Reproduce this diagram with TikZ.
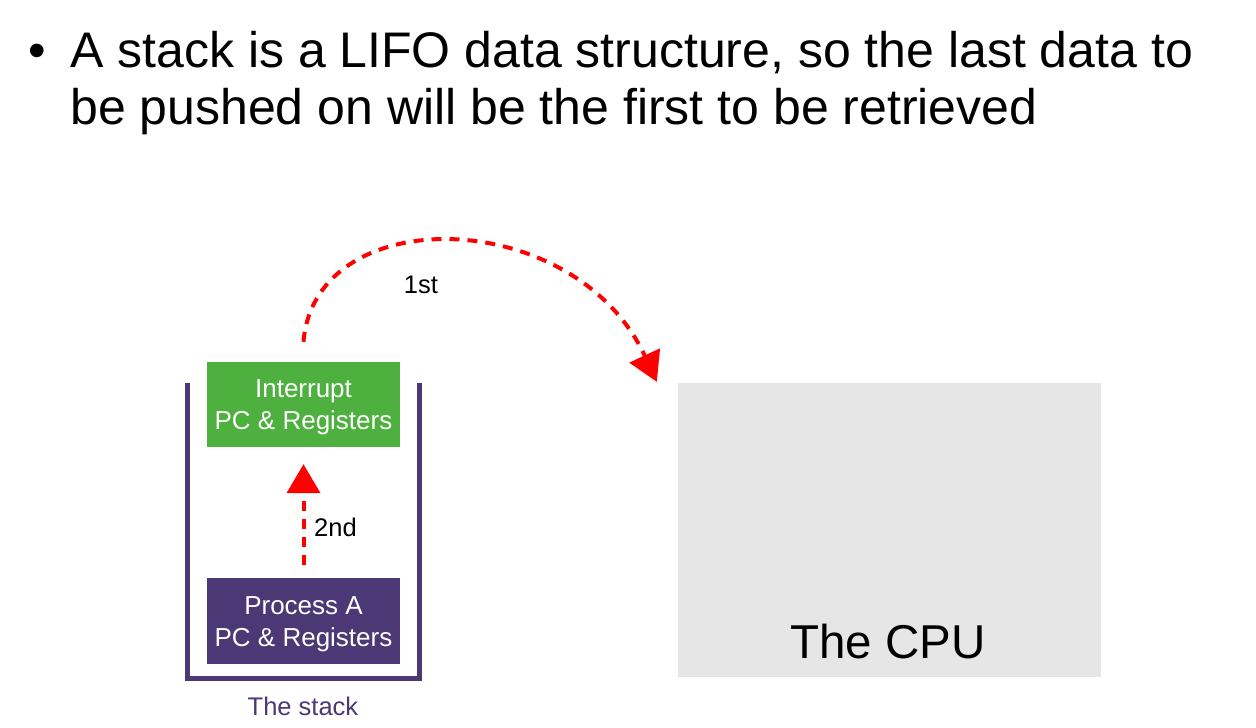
\documentclass[tikz,border=0pt]{standalone}
\usepackage{fontspec}
\setmainfont{Liberation Sans}
\usetikzlibrary{arrows.meta}
\definecolor{stkpurple}{HTML}{4B3874}
\definecolor{stkgreen}{HTML}{4DB03F}
\definecolor{cpugray}{HTML}{E6E6E6}
\definecolor{arrred}{HTML}{FF0000}
\tikzset{
  stackbox/.style={draw=none, minimum width=193pt, minimum height=86pt, inner sep=0pt},
  boxtext/.style={inner sep=0pt, align=center, text=white, font=\fontsize{26}{32}\selectfont},
  reddash/.style={draw=arrred, line width=4pt, dash pattern=on 10pt off 8pt, -{Triangle[length=29pt,width=33pt]}},
  titletext/.style={anchor=base west, inner sep=0pt, font=\fontsize{50}{55}\selectfont},
  smalltext/.style={inner sep=0pt, font=\fontsize{25.5}{28}\selectfont}
}
\begin{document}
\begin{tikzpicture}[x=1pt,y=-1pt]
\useasboundingbox (0,0) rectangle (1256,728);
% title
\node[titletext] (bul) at (28,67) {•};
\node[titletext] (t1) at (70,67) {A stack is a LIFO data structure, so the last data to};
\node[titletext] (t2) at (70,124) {be pushed on will be the first to be retrieved};
% stack container
\coordinate (stl) at (187,383);
\coordinate (str) at (419,383);
\draw[stkpurple, line width=5pt] (stl) |- (303,678) -| (str);
% boxes
\node[stackbox, fill=stkgreen, minimum height=85pt] (intr) at (303.5,404.5) {};
\node[boxtext] (intrtxt) at ([yshift=-2.5pt]intr.center) {Interrupt\\PC \& Registers};
\node[stackbox, fill=stkpurple] (proca) at (303.5,621) {};
\node[boxtext] (procatxt) at ([yshift=-3pt]proca.center) {Process A\\PC \& Registers};
\node[smalltext, text=stkpurple] (stk) at (303,706) {The stack};
% CPU
\node[fill=cpugray, minimum width=423pt, minimum height=294pt, inner sep=0pt] (cpu) at (889.5,530) {};
\node[inner sep=0pt, anchor=base, font=\fontsize{47.5}{50}\selectfont] (cpulbl) at (888,658) {The CPU};
% arrows
\coordinate (c1s) at ([yshift=20pt]intr.north);
\coordinate (c1e) at ([xshift=-21pt,yshift=1pt]cpu.north west);
\draw[reddash] (c1s) .. controls (315,200) and (575,205) .. (c1e);
\node[smalltext] (l1) at (421,285) {1st};
\draw[reddash] ([yshift=13pt]proca.north) -- ([yshift=-17pt]intr.south);
\node[smalltext, anchor=west] (l2) at (314,527) {2nd};
\end{tikzpicture}
\end{document}
